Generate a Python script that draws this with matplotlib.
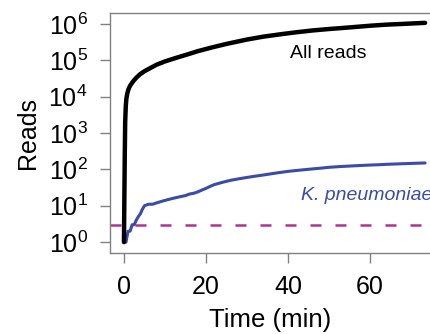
import matplotlib
matplotlib.use('Agg')
import matplotlib.pyplot as plt

plt.rcParams['font.family'] = ['Liberation Sans', 'DejaVu Sans']
plt.rcParams['mathtext.fontset'] = 'custom'
plt.rcParams['mathtext.rm'] = 'Liberation Sans'
plt.rcParams['mathtext.it'] = 'Liberation Sans:italic'

# read counts over time
t_all = [0, 0.1, 0.2, 0.3, 0.45, 0.6, 0.8, 1.1, 1.5, 2.2, 3, 4, 5, 6.3, 8, 10, 12,
         13.7, 16, 18, 21.7, 25, 30, 34, 38.5, 42, 46, 50, 54.6, 60, 64, 68, 73.4]
reads_all = [1, 16, 250, 2000, 5600, 8900, 12000, 16000, 20000, 26000, 33000,
             42000, 50000, 60000, 76000, 93000, 110000, 126000, 151000, 178000,
             229000, 282000, 372000, 447000, 525000, 589000, 661000, 724000,
             794000, 891000, 955000, 1.0e6, 1.07e6]

t_kp = [0, 0.5, 1, 1.5, 2, 2.5, 3, 3.5, 4, 4.5, 5, 6, 7, 8, 9, 10, 11, 12, 13, 14,
        15, 16, 17, 18, 19, 20, 21, 22, 24, 26, 28, 30, 32, 34, 36, 38, 40, 42, 44,
        46, 48, 50, 53, 56, 59, 62, 65, 68, 71, 73.4]
reads_kp = [1, 1, 2, 2, 3, 3, 4, 5, 6, 8, 10, 11, 11, 12, 13, 14, 15, 16, 17, 18,
            19, 21, 22, 24, 27, 30, 34, 38, 44, 50, 55, 60, 65, 70, 76, 82, 88, 93,
            98, 103, 108, 114, 120, 125, 130, 134, 139, 143, 147, 150]

threshold = 3
xticks = [0, 20, 40, 60]
yticks = [1, 10, 100, 1e3, 1e4, 1e5, 1e6]
ylabels = [r'$\mathregular{10^{%d}}$' % i for i in range(7)]

fig = plt.figure(figsize=(4.30, 3.34), dpi=100)
ax = fig.add_axes([110/430, 81/334, 320/430, 240/334])

ax.plot(t_all, reads_all, color='black', lw=3.2, solid_capstyle='round',
        solid_joinstyle='round', zorder=3)
ax.plot(t_kp, reads_kp, color='#3A4BA8', lw=2.2, solid_capstyle='round',
        solid_joinstyle='round', zorder=2)
ax.axhline(threshold, color='#B0338F', lw=1.8, dashes=(4.4, 5.6), zorder=1)

ax.set_yscale('log')
ax.set_xlim(-3.4, 74.6)
ax.set_ylim(10**-0.3, 10**6.3)
ax.set_xticks(xticks)
ax.set_yticks(yticks)
ax.set_yticklabels(ylabels)
ax.minorticks_off()

for s in ['left', 'bottom', 'top']:
    ax.spines[s].set_color('#808080')
    ax.spines[s].set_linewidth(1.0)
ax.spines['right'].set_visible(False)
ax.tick_params(axis='both', length=7, width=1.0, color='#808080', labelsize=18)
ax.tick_params(axis='y', pad=9)
ax.tick_params(axis='x', pad=9)

ax.set_xlabel('Time (min)', fontsize=18.5, labelpad=6)
ax.set_ylabel('Reads', fontsize=18, labelpad=6)

ax.text(49.8, 10**5.2, 'All reads', fontsize=14, ha='center', va='center')
ax.text(43.2, 10**1.29, 'K. pneumoniae', fontsize=14, style='italic',
        color='#3A4BA8', ha='left', va='center')

fig.savefig('out.png', dpi=100)
